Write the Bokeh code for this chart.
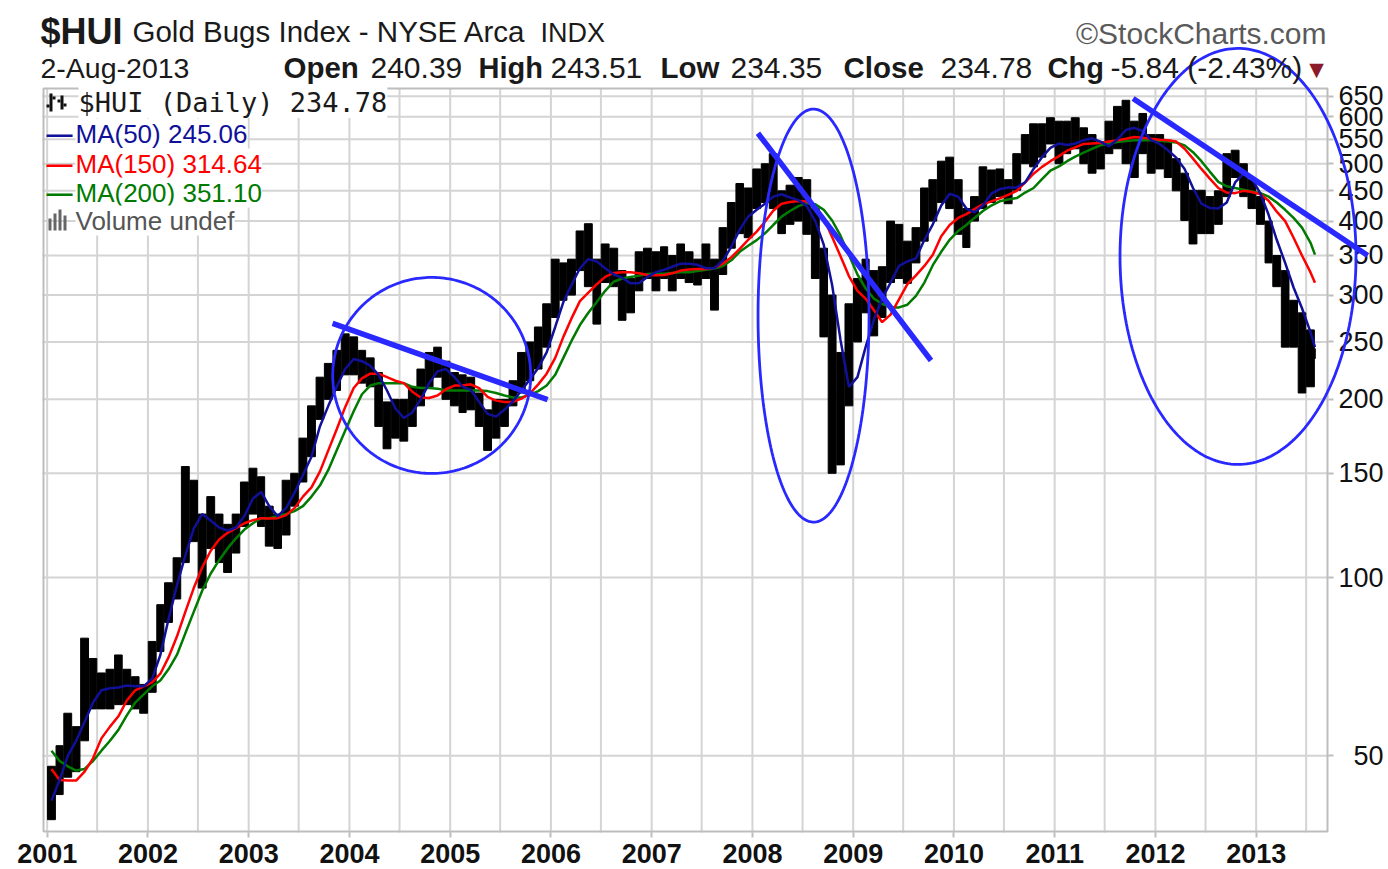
import numpy as np
import pandas as pd
from bokeh.plotting import figure
from bokeh.models import Range1d, FixedTicker, Label, PolyAnnotation, BoxAnnotation, AllLabels
from bokeh.embed import file_html
from bokeh.resources import INLINE

# ---------------- data (monthly) ----------------
first_month = "2001-01"
last_month = "2013-08"
last_date = "2013-08-02"

high = [48, 52, 59, 56, 79, 73, 69, 70, 74, 70, 68, 66,
        78, 90, 98, 108, 154, 146, 128, 137, 128, 123, 128, 145,
        153, 148, 132, 128, 146, 150, 172, 195, 218, 230, 242, 258,
        255, 242, 235, 222, 198, 200, 200, 210, 225, 240, 245, 232,
        222, 220, 218, 205, 192, 200, 200, 215, 240, 250, 265, 290,
        345, 340, 345, 385, 396, 345, 366, 360, 330, 320, 355, 360,
        355, 362, 350, 366, 355, 345, 366, 345, 390, 430, 463, 455,
        490, 500, 520, 450, 460, 474, 470, 420, 360, 300, 240, 290,
        320, 345, 330, 335, 400, 395, 370, 390, 455, 470, 505, 513,
        470, 420, 440, 494, 488, 490, 470, 520, 560, 584, 584, 598,
        590, 590, 598, 575, 560, 545, 590, 625, 640, 590, 608, 560,
        560, 548, 510, 482, 451, 451, 440, 450, 520, 527, 500, 470,
        440, 400, 350, 330, 294, 280, 262, 243.51]
low = [39, 43, 46, 47, 53, 60, 60, 60, 61, 61, 60, 59,
       64, 75, 84, 92, 106, 115, 96, 112, 106, 102, 110, 122,
       128, 122, 113, 112, 118, 132, 145, 160, 185, 200, 207, 220,
       220, 213, 210, 180, 165, 172, 170, 180, 195, 210, 218, 200,
       195, 190, 192, 180, 164, 172, 180, 195, 205, 215, 225, 245,
       275, 294, 300, 330, 310, 268, 315, 310, 272, 280, 305, 320,
       305, 320, 305, 320, 315, 312, 320, 283, 325, 360, 381, 375,
       420, 430, 420, 381, 395, 400, 380, 320, 255, 150, 155, 195,
       250, 280, 256, 275, 315, 320, 314, 340, 370, 400, 430, 420,
       380, 361, 400, 420, 430, 440, 428, 451, 500, 494, 513, 540,
       500, 520, 530, 500, 482, 490, 520, 530, 500, 474, 520, 482,
       490, 474, 450, 401, 366, 381, 381, 395, 440, 474, 440, 420,
       395, 340, 310, 245, 245, 205, 210, 234.35]
ma50 = [42, 45.5, 50, 53, 57, 61.5, 64.5, 65, 65.2, 65.7, 65.5, 65.5,
        67.5, 74, 85, 97, 109, 121, 128, 124.8, 121.5, 120, 121.5, 127,
        136, 139.5, 132, 127, 131, 139, 149, 160, 180, 195, 210, 225,
        234, 232, 228, 220, 207, 193, 186, 190, 200, 213, 223, 225,
        218, 210, 207.5, 198, 189, 187, 192, 198.5, 207, 216, 226, 240,
        265, 292, 312, 333, 345, 342, 333, 325, 321, 314, 314, 322,
        328, 331, 335, 339, 339, 337.5, 333, 333, 343, 362, 387, 407,
        418, 428, 440, 444, 438.5, 434, 424, 400, 365, 312, 252, 210,
        218, 245, 272, 296, 315, 336, 342, 346, 372, 395, 425, 445,
        440, 420, 414, 425, 445, 453, 456, 456, 465, 490, 513, 532,
        541, 538, 541, 548, 552, 545, 535, 550, 570, 575, 568, 548,
        540, 527, 512, 490, 455, 428, 421, 420, 430, 465, 481, 472,
        445, 410, 372, 340, 309, 285, 260, 245.06]
ma150 = [47.5, 45.5, 45.4, 45.4, 47, 49.5, 53.5, 56, 58.3, 62, 64.5, 65.5,
         66.5, 68.8, 73.3, 79.5, 87.5, 96, 104, 111, 116, 119, 121.2, 123.5,
         125, 126, 125.8, 126, 127.5, 131, 137, 142, 151, 164, 178, 194,
         209, 217, 221, 221, 218, 215, 213, 206, 201.5, 201, 203, 208,
         211, 211, 212, 209, 202, 199, 198, 198, 200.5, 204.5, 212, 221,
         235, 255, 274, 293, 303, 313, 322, 327, 328, 328, 326.5, 324.5,
         324, 324.5, 326.5, 330, 331.5, 332, 332, 333.5, 339, 347.5, 359, 372,
         384, 399, 416.5, 428, 430.8, 432.5, 431.8, 423, 404, 376, 349, 323,
         305, 296, 283, 270, 278, 295, 313, 324, 336, 351, 377, 394,
         405, 411, 419, 427, 432, 437, 443, 450, 465, 481, 494, 505,
         515, 526, 533, 540, 541, 542, 545, 548, 551, 555, 553, 551,
         549, 548, 545, 530, 510, 490, 472, 455, 447, 446, 450, 448,
         444, 433, 415, 400, 375, 350, 328, 314.64]
ma200 = [51, 49, 48, 47.2, 47.5, 49, 51, 53, 55.3, 58.5, 61.5, 63.5,
         65.5, 67, 70, 74, 80.5, 87.5, 95, 101.6, 107, 112, 116.5, 120.5,
         123.5, 126, 126, 127, 128, 129.5, 132, 137, 143, 152, 164, 177,
         191, 204, 211, 213, 213, 213, 213, 210, 209, 209, 208.5, 207,
         207, 207, 207, 207, 206.5, 205, 203, 201.5, 201.5, 203.5, 206.5, 211,
         220, 235, 251, 267, 280, 292, 305, 316, 320, 322, 323.6, 325.5,
         326, 326, 327, 328, 328, 329.5, 331, 332.7, 336, 343.5, 355, 363.5,
         371.5, 381.5, 394, 407, 416, 424, 429, 427, 418, 401, 378, 351,
         325, 308, 296, 290, 286, 286, 289, 299, 315, 337, 355, 372,
         385, 394, 405, 416, 425, 432, 435, 437.5, 447, 455, 471, 487,
         495, 505, 514, 522, 530, 537, 541, 544, 546, 548, 548, 548,
         547, 545, 543, 537, 523, 505, 485, 466, 458, 455, 452, 449,
         446, 440, 430, 418, 405, 390, 368, 351.10]

y_ticks = [50, 100, 150, 200, 250, 300, 350, 400, 450, 500, 550, 600, 650]
year_labels = list(range(2001, 2014))

# hand-drawn annotations (centre date / value, size in pixels)
ell_dates = ["2004-10-26", "2008-08-10", "2012-10-27"]
ell_values = [219.5, 277.0, 348.7]
ell_w_px = [198, 111, 236]
ell_h_px = [196, 413, 416]
trend_start_dates = ["2003-11-01", "2008-01-21", "2011-10-12"]
trend_start_values = [268.7, 563.0, 644.6]
trend_end_dates = ["2005-12-20", "2009-10-10", "2014-02-09"]
trend_end_values = [199.8, 232.6, 350.0]

# ---------------- helpers ----------------
def dy(t):
    t = pd.Timestamp(t)
    y0 = pd.Timestamp(year=t.year, month=1, day=1)
    y1 = pd.Timestamp(year=t.year + 1, month=1, day=1)
    return t.year + (t - y0) / (y1 - y0)

months = pd.period_range(first_month, last_month, freq="M")
starts = [m.start_time for m in months]
ends = [m.end_time.normalize() + pd.Timedelta(days=1) for m in months]
ends[-1] = pd.Timestamp(last_date) + pd.Timedelta(days=1)
bx = [(dy(s) + dy(e)) / 2 for s, e in zip(starts, ends)]
bw = [(dy(e) - dy(s)) * 0.92 for s, e in zip(starts, ends)]
mx = list(bx)
mx[-1] = dy(last_date)

W, H = 1388, 869
CL, CR, CT, CB = 42, 1328, 88, 832       # chart box in canvas px
X0, X1 = dy("2000-12-15"), dy("2013-09-20")   # chart box x extent
Y0, Y1 = 37.1, 670.0                          # chart box y extent
ppy = (CR - CL) / (X1 - X0)
ppl = (CB - CT) / np.log(Y1 / Y0)

p = figure(width=W, height=H,
           x_range=Range1d(X0 - CL / ppy, X1 + (W - CR) / ppy),
           y_range=Range1d(Y0 * np.exp(-(H - CB) / ppl), Y1 * np.exp(CT / ppl)),
           y_axis_type="log", y_axis_location="right", x_axis_location="below",
           toolbar_location=None, output_backend="svg",
           min_border_left=0, min_border_right=0, min_border_top=0, min_border_bottom=0,
           background_fill_color="white", border_fill_color="white")
p.outline_line_color = None
p.xgrid.visible = False
p.ygrid.visible = False

# grid lines inside the chart box
half_years = []
for y in range(2001, 2014):
    half_years += [dy(f"{y}-01-01"), dy(f"{y}-07-01")]
p.segment(x0=half_years, x1=half_years, y0=[Y0] * len(half_years), y1=[Y1] * len(half_years),
          line_color="#d4d4d4", line_width=2)
p.segment(x0=[X0] * len(y_ticks), x1=[X1] * len(y_ticks), y0=y_ticks, y1=y_ticks,
          line_color="#d4d4d4", line_width=2)
p.quad(left=[X0 + 1 / ppy], right=[X1 - 1 / ppy], bottom=[Y0 * np.exp(1 / ppl)], top=[Y1],
       fill_color=None, line_color="#bdbdbd", line_width=2)

# axes, fixed on the chart box edges
xa = p.xaxis[0]
xt = [dy(f"{y}-01-01") for y in year_labels]
xa.ticker = FixedTicker(ticks=xt)
xa.major_label_overrides = {t: str(y) for t, y in zip(xt, year_labels)}
xa.fixed_location = Y0
ya = p.yaxis[0]
ya.ticker = FixedTicker(ticks=y_ticks)
ya.major_label_overrides = {v: ("\u2007" + str(v) if v < 100 else str(v)) for v in y_ticks}
ya.major_label_policy = AllLabels()
ya.fixed_location = X1
for a in (xa, ya):
    a.axis_line_color = None
    a.minor_tick_line_color = None
    a.major_tick_in = 0
    a.major_tick_out = 5
    a.major_tick_line_color = "#bdbdbd"
    a.major_tick_line_width = 2
    a.major_label_text_font = "Liberation Sans"
    a.major_label_text_color = "#111111"
xa.major_label_text_font_size = "27px"
xa.major_label_text_font_style = "bold"
xa.major_label_standoff = 6
ya.major_label_text_font_size = "27px"
ya.major_label_standoff = 5

# price bars
p.vbar(x=bx, width=bw, top=high, bottom=low, color="black")

# moving averages
p.line(mx, ma200, line_color="#007a00", line_width=2.5)
p.line(mx, ma150, line_color="#ff0000", line_width=2.5)
p.line(mx, ma50, line_color="#10109a", line_width=2.5)

# annotations (ellipses and trend lines)
tt = np.linspace(0, 2 * np.pi, 240)
for d, v, w, h in zip(ell_dates, ell_values, ell_w_px, ell_h_px):
    xs = dy(d) + (w / 2) * np.cos(tt) / ppy
    ys = v * np.exp((h / 2) * np.sin(tt) / ppl)
    p.add_layout(PolyAnnotation(xs=list(xs), ys=list(ys), xs_units="data", ys_units="data",
                                fill_color=None, fill_alpha=0, line_color="#2828ff",
                                line_alpha=1.0, line_width=2.8))
for d0, v0, d1, v1 in zip(trend_start_dates, trend_start_values, trend_end_dates, trend_end_values):
    p.add_layout(PolyAnnotation(xs=[dy(d0), dy(d1)], ys=[v0, v1], xs_units="data", ys_units="data",
                                fill_color=None, fill_alpha=0, line_color="#2828ff",
                                line_alpha=1.0, line_width=5.5))

# texts (window pixel positions)
def lab(text, wx, wy, size, color="#1a1a1a", bold=False, align="left",
        font="Liberation Sans", bg=None):
    return Label(x=wx, y=H - wy, x_units="screen", y_units="screen", text=text,
                 text_font=font, text_font_size=f"{size}px",
                 text_font_style="bold" if bold else "normal", text_color=color,
                 text_align=align, text_baseline="middle", background_fill_color=bg)

def box(l, r, t, b, color):
    return BoxAnnotation(left=l, right=r, top=H - t, bottom=H - b,
                         left_units="screen", right_units="screen",
                         top_units="screen", bottom_units="screen",
                         fill_color=color, fill_alpha=1.0, line_color=None)

open_v, high_v, low_v, close_v, chg_v, chg_pct = "240.39", "243.51", "234.35", "234.78", "-5.84", "-2.43%"
texts = [
    lab("$HUI", 40, 31, 36, bold=True),
    lab("Gold Bugs Index - NYSE Arca", 132, 31, 29.5),
    lab("INDX", 540, 32, 27),
    lab("\u00a9StockCharts.com", 1326, 33, 30, color="#5a5a5a", align="right"),
    lab("2-Aug-2013", 40, 67, 28.5),
    lab("Open", 283, 67, 29.5, bold=True), lab(open_v, 370, 67, 30),
    lab("High", 478, 67, 29, bold=True), lab(high_v, 550, 67, 30),
    lab("Low", 660, 67, 29.5, bold=True), lab(low_v, 730, 67, 30),
    lab("Close", 843, 67, 29.5, bold=True), lab(close_v, 940, 67, 30),
    lab("Chg", 1047, 67, 29, bold=True), lab(f"{chg_v} ({chg_pct})", 1110, 67, 30),
    lab("\u25bc", 1316, 68, 19, color="#8b1a2b", align="center", font="DejaVu Sans"),
    lab("$HUI (Daily) 234.78", 78, 102, 27, font="DejaVu Sans Mono", bg="white"),
    lab("\u2014", 46, 133, 26, color="#10109a", bold=True),
    lab("MA(50) 245.06", 75, 133, 26, color="#10109a", bg="white"),
    lab("\u2014", 46, 163, 26, color="#ff0000", bold=True),
    lab("MA(150) 314.64", 75, 163, 26, color="#ff0000", bg="white"),
    lab("\u2014", 46, 192, 26, color="#007a00", bold=True),
    lab("MA(200) 351.10", 75, 192, 26, color="#007a00", bg="white"),
    lab("Volume undef", 75, 220, 26, color="#555555", bg="white"),
]
for t in texts:
    p.add_layout(t)

# small legend icons (price-bar icon and volume icon)
icons = [
    box(49, 52, 93, 111, "#111111"), box(46, 49, 104, 107, "#111111"), box(52, 55, 96, 99, "#111111"),
    box(60, 63, 95, 109, "#111111"), box(57, 60, 99, 102, "#111111"), box(63, 66, 103, 106, "#111111"),
    box(48, 51, 218, 230, "#666666"), box(53, 56, 213, 230, "#666666"),
    box(58, 61, 209, 230, "#666666"), box(63, 66, 215, 230, "#666666"),
]
for b in icons:
    p.add_layout(b)

open("out.html", "w").write(file_html(p, INLINE))
